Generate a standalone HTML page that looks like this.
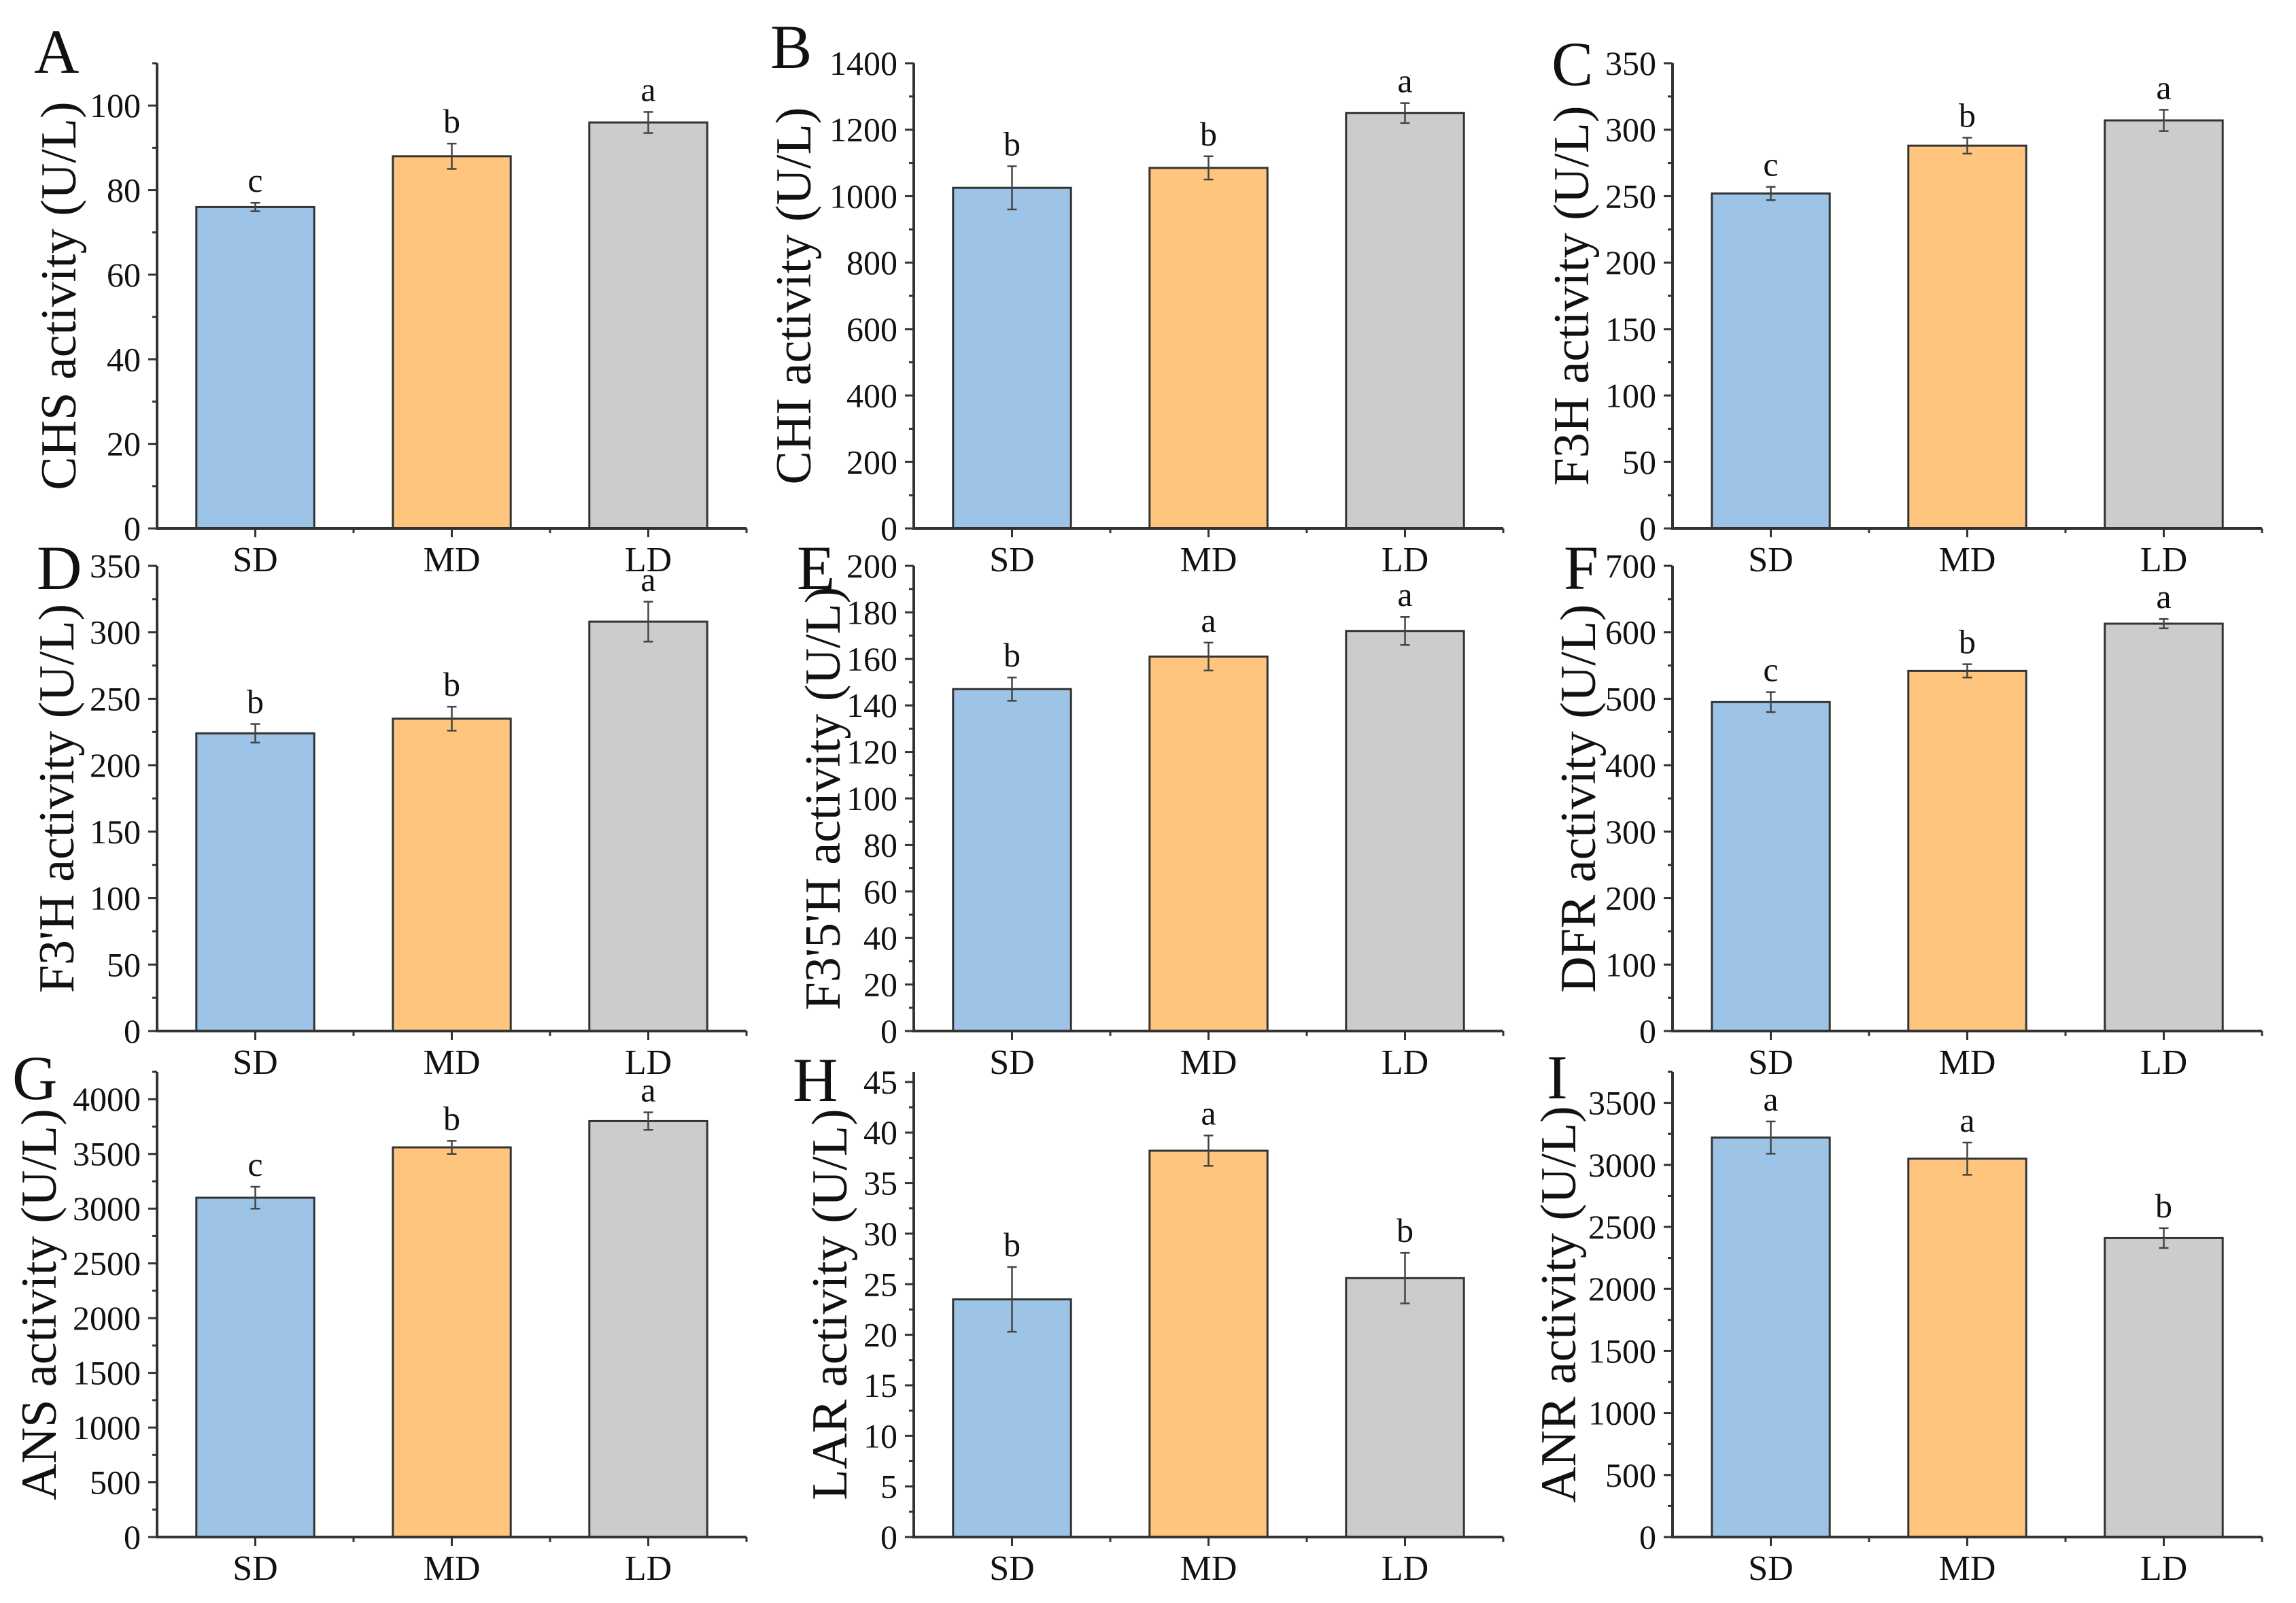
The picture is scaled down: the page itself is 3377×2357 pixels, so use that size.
<!DOCTYPE html>
<html><head><meta charset="utf-8">
<style>
html,body{margin:0;padding:0;background:#fff;}
svg{display:block;font-family:"Liberation Serif","Times New Roman",serif;}
</style></head>
<body>
<svg id="fig" width="3377" height="2357" viewBox="0 0 3377 2357" xmlns="http://www.w3.org/2000/svg">
<rect width="3377" height="2357" fill="#fff"/>
</svg>
<script>
const categories = ["SD","MD","LD"];
const panelLetters = ["A","B","C","D","E","F","G","H","I"];
const enzymes = ["CHS","CHI","F3H","F3'H","F3'5'H","DFR","ANS","LAR","ANR"];
const valuesA = [76, 88, 96];      const errA = [1, 3, 2.5];     const sigA = ["c","b","a"];
const valuesB = [1025, 1085, 1250]; const errB = [65, 35, 30];   const sigB = ["b","b","a"];
const valuesC = [252, 288, 307];   const errC = [5, 6, 8];       const sigC = ["c","b","a"];
const valuesD = [224, 235, 308];   const errD = [7, 9, 15];      const sigD = ["b","b","a"];
const valuesE = [147, 161, 172];   const errE = [5, 6, 6];       const sigE = ["b","a","a"];
const valuesF = [495, 542, 613];   const errF = [15, 10, 7];     const sigF = ["c","b","a"];
const valuesG = [3100, 3560, 3800]; const errG = [100, 60, 80];  const sigG = ["c","b","a"];
const valuesH = [23.5, 38.2, 25.6]; const errH = [3.2, 1.5, 2.5]; const sigH = ["b","a","b"];
const valuesI = [3220, 3050, 2410]; const errI = [130, 130, 80]; const sigI = ["a","a","b"];
const yMax = [110, 1400, 350, 350, 200, 700, 4250, 46, 3750];
const yStep = [20, 200, 50, 50, 20, 100, 500, 5, 500];

const allValues = [valuesA,valuesB,valuesC,valuesD,valuesE,valuesF,valuesG,valuesH,valuesI];
const allErr = [errA,errB,errC,errD,errE,errF,errG,errH,errI];
const allSig = [sigA,sigB,sigC,sigD,sigE,sigF,sigG,sigH,sigI];

const NS = "http://www.w3.org/2000/svg";
const svg = document.getElementById("fig");
const colX = [231, 1344, 2460];
const rowBase = [777, 1516, 2260];
const plotH = 684, plotW = 867;
const titleOff = [146, 178, 150, 149, 135, 140, 175, 125, 169];
const letterPos = [[50,107],[1133,100],[2282,125],[54,866],[1172,866],[2300,866],[18,1616],[1166,1619],[2275,1615]];
const fills = ["#9dc3e6","#ffc57f","#cccccc"];

function mk(tag, attrs, parent){
  const e = document.createElementNS(NS, tag);
  for (const k in attrs) e.setAttribute(k, attrs[k]);
  (parent||svg).appendChild(e);
  return e;
}

for (let p = 0; p < 9; p++) {
  const ax = colX[p % 3], base = rowBase[Math.floor(p / 3)];
  const top = base - plotH;
  const vals = allValues[p], errs = allErr[p], sig = allSig[p];
  const g = mk("g", {});
  
  
  const y = v => base - v / yMax[p] * plotH;
  const band = plotW / 3;
  const xc = i => ax + band * (i + 0.5);

  // bars
  for (let i = 0; i < 3; i++) {
    const bw = band * 0.6;
    const r = mk("rect", {x: xc(i) - bw/2, y: y(vals[i]), width: bw, height: base - y(vals[i]), fill: fills[i], stroke: "#333", "stroke-width": 3}, g);
    
    
    const eg = mk("g", {stroke: "#444", "stroke-width": 2.5}, g);
    
    
    const yt = y(vals[i] + errs[i]), yb = y(vals[i] - errs[i]);
    mk("line", {x1: xc(i), x2: xc(i), y1: yt, y2: yb}, eg);
    mk("line", {x1: xc(i) - 7, x2: xc(i) + 7, y1: yt, y2: yt}, eg);
    mk("line", {x1: xc(i) - 7, x2: xc(i) + 7, y1: yb, y2: yb}, eg);
    const t = mk("text", {x: xc(i), y: yt - 16, "text-anchor": "middle", "font-size": 50, fill: "#111"}, g);
    t.textContent = sig[i];
    
    
    const xl = mk("text", {x: xc(i), y: base + 63, "text-anchor": "middle", "font-size": 52, fill: "#111"}, g);
    xl.textContent = categories[i];
    
    
  }
  // axes
  const axes = mk("g", {stroke: "#333", "stroke-width": 4, fill: "none"}, g);
  
  
  mk("line", {x1: ax, x2: ax, y1: top, y2: base + 2}, axes);
  mk("line", {x1: ax - 2, x2: ax + plotW, y1: base, y2: base}, axes);
  for (let i = 0; i < 3; i++) mk("line", {x1: xc(i), x2: xc(i), y1: base, y2: base + 13, "stroke-width": 3}, axes);
  for (let i = 1; i <= 3; i++) mk("line", {x1: ax + band * i, x2: ax + band * i, y1: base, y2: base + 7, "stroke-width": 3}, axes);
  for (let v = 0; v <= yMax[p] + 1e-9; v += yStep[p] / 2) {
    const major = Math.abs(v / yStep[p] - Math.round(v / yStep[p])) < 1e-6;
    mk("line", {x1: ax - (major ? 13 : 7), x2: ax, y1: y(v), y2: y(v), "stroke-width": 3}, axes);
    if (major) {
      const tl = mk("text", {x: ax - 24, y: y(v) + 17, "text-anchor": "end", "font-size": 50, fill: "#111", stroke: "none"}, g);
      tl.textContent = String(Math.round(v));
      
      
    }
  }
  // y title
  const cy = base - plotH / 2, cx = ax - titleOff[p];
  const yt = mk("text", {x: cx, y: cy, "text-anchor": "middle", "font-size": 74, fill: "#111", transform: `rotate(-90 ${cx} ${cy}) translate(0 26)`}, g);
  yt.textContent = enzymes[p] + " activity (U/L)";
  
  
  // panel letter
  const pl = mk("text", {x: letterPos[p][0], y: letterPos[p][1], "font-size": 92, fill: "#111"}, g);
  pl.textContent = panelLetters[p];
  
  
}
</script>
</body></html>
